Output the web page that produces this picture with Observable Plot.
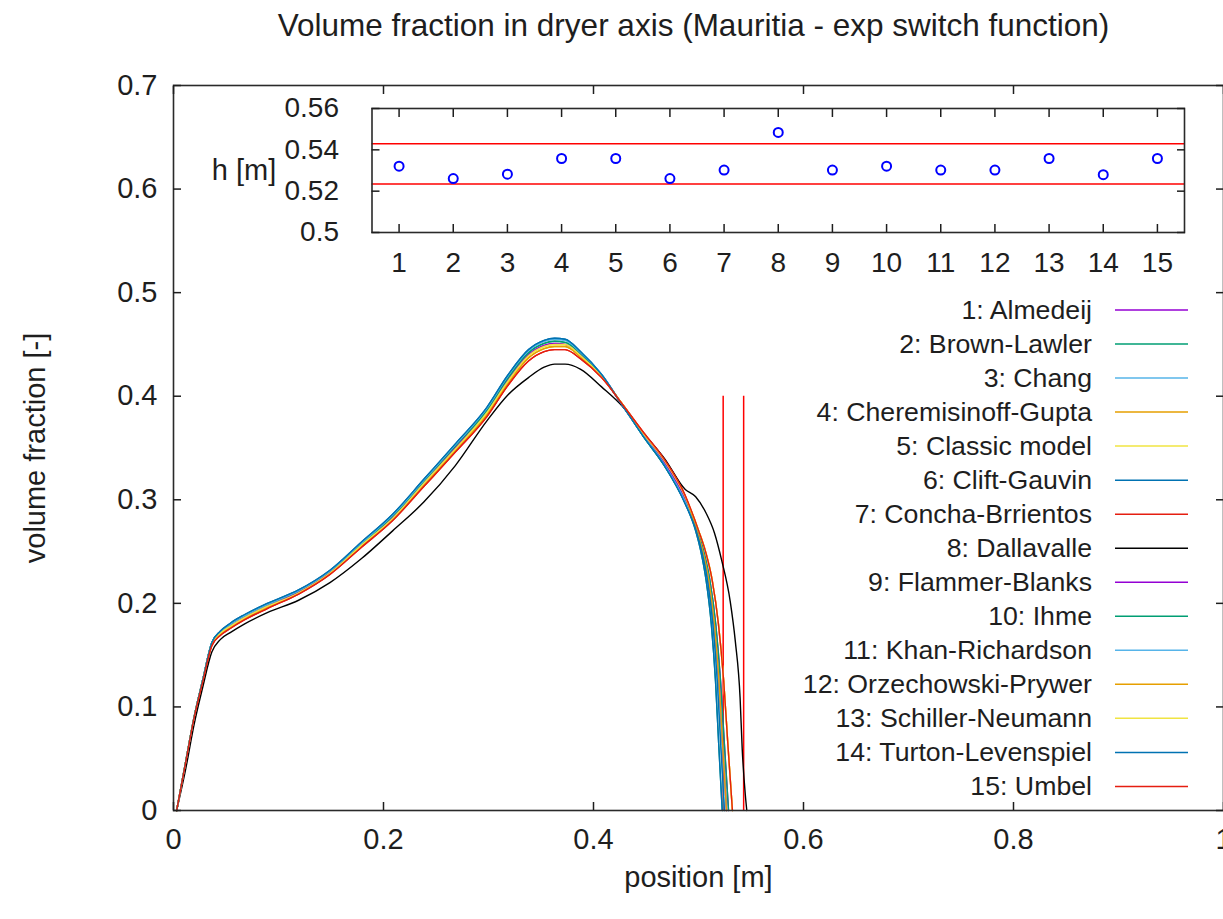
<!DOCTYPE html>
<html><head><meta charset="utf-8">
<script src="https://cdn.jsdelivr.net/npm/d3@7"></script>
<script src="https://cdn.jsdelivr.net/npm/@observablehq/plot@0.6"></script>
<style>
html,body{margin:0;padding:0;background:#fff;}
#wrap{position:relative;width:1223px;height:919px;overflow:hidden;background:#fff;}
#wrap svg{position:absolute;left:0;top:0;}
</style></head><body><div id="wrap"></div>
<script>
// ---------------- data ----------------
const title = "Volume fraction in dryer axis (Mauritia - exp switch function)";
const xLabel = "position [m]";
const yLabel = "volume fraction [-]";
const insetLabel = "h [m]";

const models = ["1: Almedeij","2: Brown-Lawler","3: Chang","4: Cheremisinoff-Gupta","5: Classic model","6: Clift-Gauvin","7: Concha-Brrientos","8: Dallavalle","9: Flammer-Blanks","10: Ihme","11: Khan-Richardson","12: Orzechowski-Prywer","13: Schiller-Neumann","14: Turton-Levenspiel","15: Umbel"];
const modelColors = ["#9400d3","#009e73","#56b4e9","#e69f00","#f0e442","#0072b2","#e51e10","#000000","#9400d3","#009e73","#56b4e9","#e69f00","#f0e442","#0072b2","#e51e10"];

const xTicks = [0, 0.2, 0.4, 0.6, 0.8, 1];
const yTicks = [0, 0.1, 0.2, 0.3, 0.4, 0.5, 0.6, 0.7];
const insetXTicks = [1, 2, 3, 4, 5, 6, 7, 8, 9, 10, 11, 12, 13, 14, 15];
const insetYTicks = [0.5, 0.52, 0.54, 0.56];

// shared positions along the dryer axis (body of each profile)
const position = [0.003, 0.0116, 0.0196, 0.0276, 0.0365, 0.0445, 0.0544, 0.0674, 0.0893, 0.1191, 0.149, 0.1788, 0.2087, 0.2386, 0.2684, 0.2983, 0.3182, 0.3381, 0.353, 0.363, 0.3729, 0.3878, 0.4077, 0.4277, 0.4476, 0.4675, 0.4874];

// volume fraction profiles, grouped by the visually identical lines
const vfBlue   = [0, 0.047, 0.090, 0.125, 0.162, 0.173, 0.181, 0.189, 0.200, 0.213, 0.232, 0.259, 0.286, 0.320, 0.354, 0.389, 0.420, 0.445, 0.454, 0.456, 0.455, 0.443, 0.421, 0.391, 0.361, 0.333, 0.296];
const vfSky    = [0, 0.047, 0.090, 0.125, 0.162, 0.172, 0.180, 0.188, 0.199, 0.212, 0.231, 0.258, 0.285, 0.319, 0.353, 0.388, 0.419, 0.444, 0.453, 0.455, 0.454, 0.442, 0.421, 0.391, 0.362, 0.334, 0.298];
const vfTeal   = [0, 0.047, 0.090, 0.125, 0.162, 0.172, 0.180, 0.188, 0.199, 0.212, 0.231, 0.257, 0.284, 0.318, 0.352, 0.386, 0.417, 0.442, 0.451, 0.453, 0.452, 0.441, 0.420, 0.391, 0.361, 0.333, 0.297];
const vfPurple = [0, 0.047, 0.090, 0.125, 0.161, 0.171, 0.178, 0.186, 0.197, 0.211, 0.230, 0.256, 0.283, 0.316, 0.350, 0.385, 0.415, 0.440, 0.449, 0.451, 0.450, 0.440, 0.420, 0.391, 0.363, 0.336, 0.300];
const vfYellow = [0, 0.047, 0.090, 0.125, 0.161, 0.171, 0.178, 0.186, 0.197, 0.210, 0.229, 0.256, 0.282, 0.316, 0.349, 0.384, 0.414, 0.439, 0.448, 0.450, 0.450, 0.439, 0.419, 0.392, 0.364, 0.338, 0.303];
const vfOrange = [0, 0.047, 0.090, 0.124, 0.160, 0.170, 0.177, 0.185, 0.196, 0.210, 0.229, 0.255, 0.281, 0.314, 0.348, 0.382, 0.412, 0.437, 0.446, 0.448, 0.448, 0.438, 0.419, 0.392, 0.364, 0.338, 0.303];
const vfRed    = [0, 0.046, 0.089, 0.123, 0.159, 0.169, 0.176, 0.184, 0.195, 0.209, 0.228, 0.254, 0.280, 0.313, 0.346, 0.380, 0.410, 0.434, 0.443, 0.445, 0.445, 0.436, 0.418, 0.392, 0.365, 0.339, 0.304];
const vfBlack  = [0, 0.040, 0.083, 0.118, 0.153, 0.165, 0.172, 0.180, 0.191, 0.203, 0.220, 0.243, 0.270, 0.298, 0.333, 0.376, 0.401, 0.418, 0.428, 0.431, 0.431, 0.426, 0.409, 0.390, 0.364, 0.340, 0.310];

// steep tail near the end of the bed
const tailVf   = [0.270, 0.250, 0.222, 0.180, 0.125, 0.065, 0];
const tailPosA = [0.4973, 0.5023, 0.5073, 0.5122, 0.5162, 0.5192, 0.5226];
const tailPosB = [0.4979, 0.5032, 0.5086, 0.5137, 0.5179, 0.5211, 0.5247];
const tailPosC = [0.4985, 0.5041, 0.5098, 0.5151, 0.5195, 0.5229, 0.5267];
const tailPosD = [0.4991, 0.5050, 0.5109, 0.5164, 0.5210, 0.5246, 0.5286];
const tailPosE = [0.5002, 0.5067, 0.5131, 0.5190, 0.5240, 0.5279, 0.5323];
const tailPosBlack = [0.4973, 0.5073, 0.5152, 0.5222, 0.5302, 0.5351, 0.5396, 0.5416, 0.5446, 0.546];
const tailVfBlack  = [0.303, 0.287, 0.268, 0.241, 0.202, 0.163, 0.109, 0.060, 0.015, 0];

const seriesBody    = [vfPurple, vfTeal, vfSky, vfOrange, vfYellow, vfBlue, vfRed, vfBlack, vfPurple, vfTeal, vfSky, vfOrange, vfYellow, vfBlue, vfRed];
const seriesTailPos = [tailPosD, tailPosA, tailPosB, tailPosE, tailPosE, tailPosA, tailPosC, tailPosBlack, tailPosC, tailPosD, tailPosC, tailPosC, tailPosE, tailPosB, tailPosE];
const seriesTailVf  = [tailVf, tailVf, tailVf, tailVf, tailVf, tailVf, tailVf, tailVfBlack, tailVf, tailVf, tailVf, tailVf, tailVf, tailVf, tailVf];

// inset: bed height h for each model, and the reference band
const hModel  = [1, 2, 3, 4, 5, 6, 7, 8, 9, 10, 11, 12, 13, 14, 15];
const hValues = [0.5321, 0.5261, 0.5282, 0.5358, 0.5358, 0.5261, 0.5302, 0.5484, 0.5302, 0.5321, 0.5302, 0.5302, 0.5358, 0.5280, 0.5358];
const hBand = [0.5235, 0.5430];
const bandTop = 0.4;

// ---------------- build tables ----------------
const rows = [];
models.forEach((m, i) => {
  seriesBody[i].forEach((v, j) => rows.push({model: m, position: position[j], vf: v}));
  seriesTailPos[i].forEach((p, j) => rows.push({model: m, position: p, vf: seriesTailVf[i][j]}));
});
const hRows = hModel.map((k, i) => ({k, h: hValues[i]}));

const W = 1223, H = 919;
const FONT = "'Liberation Sans', Arial, Helvetica, sans-serif";
const TXT = "#1e1e1e";
const fmt = d => String(d);
const tickText = {fontSize: 29, letterSpacing: "0.5px"};

const main = Plot.plot({
  width: W, height: H,
  marginLeft: 173, marginRight: 0, marginTop: 85, marginBottom: 109,
  x: {domain: [0, 1]},
  y: {domain: [0, 0.7]},
  color: {domain: models, range: modelColors},
  style: {fontFamily: FONT, fontSize: "28px", color: TXT, background: "transparent"},
  marks: [
    Plot.ruleX(hBand, {y1: 0, y2: bandTop, stroke: "#ff0000", strokeWidth: 1.5}),
    Plot.line(rows, {x: "position", y: "vf", z: "model", stroke: "model", strokeWidth: 1.4, curve: "monotone-x"}),
    Plot.frame({stroke: "#2a2a2a", strokeWidth: 1.6}),
    Plot.axisX(xTicks, {anchor: "bottom", tickSize: 8, dy: -8, fill: "none", label: null, strokeWidth: 1.5}),
    Plot.axisX(xTicks, {anchor: "top", tickSize: 8, dy: 8, fill: "none", label: null, strokeWidth: 1.5}),
    Plot.axisY(yTicks, {anchor: "left", tickSize: 8, dx: 8, fill: "none", label: null, strokeWidth: 1.5}),
    Plot.axisY(yTicks, {anchor: "right", tickSize: 8, dx: -8, fill: "none", label: null, strokeWidth: 1.5}),
    Plot.axisX(xTicks, {anchor: "bottom", tickSize: 0, tickPadding: 18, tickFormat: fmt, label: null, ...tickText}),
    Plot.axisY(yTicks, {anchor: "left", tickSize: 0, tickPadding: 16, tickFormat: fmt, label: null, ...tickText}),
    Plot.text([title], {frameAnchor: "top", lineAnchor: "middle", dy: -60, dx: -5, fontSize: 31.5}),
    Plot.text([xLabel], {frameAnchor: "bottom", lineAnchor: "middle", dy: 67, fontSize: 29}),
    Plot.text([yLabel], {frameAnchor: "left", textAnchor: "middle", lineAnchor: "middle", dx: -138, rotate: -90, fontSize: 29})
  ]
});

// legend (gnuplot style: label right-aligned, sample line to the right)
const lg = d3.select(main).append("g").attr("font-family", FONT).attr("font-size", 26.7);
models.forEach((m, i) => {
  const y = 310 + i * 34.03;
  lg.append("text").attr("x", 1092).attr("y", y).attr("text-anchor", "end")
    .attr("dominant-baseline", "central").attr("fill", TXT).text(m);
  lg.append("line").attr("x1", 1115).attr("x2", 1188).attr("y1", y).attr("y2", y)
    .attr("stroke", modelColors[i]).attr("stroke-width", 1.5);
});

const inset = Plot.plot({
  width: W, height: H,
  marginLeft: 371.5, marginRight: 39, marginTop: 108, marginBottom: 687,
  x: {domain: [0.5, 15.5]},
  y: {domain: [0.5, 0.56]},
  style: {fontFamily: FONT, fontSize: "28px", color: TXT, background: "transparent"},
  marks: [
    Plot.ruleY(hBand, {stroke: "#ff0000", strokeWidth: 1.5}),
    Plot.dot(hRows, {x: "k", y: "h", r: 4.5, stroke: "#0000ff", strokeWidth: 2, fill: "none"}),
    Plot.frame({stroke: "#2a2a2a", strokeWidth: 1.6}),
    Plot.axisX(insetXTicks, {anchor: "bottom", tickSize: 8, dy: -8, fill: "none", label: null, strokeWidth: 1.5}),
    Plot.axisX(insetXTicks, {anchor: "top", tickSize: 8, dy: 8, fill: "none", label: null, strokeWidth: 1.5}),
    Plot.axisY(insetYTicks, {anchor: "left", tickSize: 8, dx: 8, fill: "none", label: null, strokeWidth: 1.5}),
    Plot.axisY(insetYTicks, {anchor: "right", tickSize: 8, dx: -8, fill: "none", label: null, strokeWidth: 1.5}),
    Plot.axisX(insetXTicks, {anchor: "bottom", tickSize: 0, tickPadding: 20, tickFormat: fmt, label: null, fontSize: 28}),
    Plot.axisY(insetYTicks, {anchor: "left", tickSize: 0, tickPadding: 33, tickFormat: fmt, label: null, fontSize: 28, letterSpacing: "0.5px"}),
    Plot.text([insetLabel], {frameAnchor: "left", textAnchor: "middle", lineAnchor: "middle", dx: -128, fontSize: 29})
  ]
});

document.getElementById("wrap").append(main, inset);
</script></body></html>
